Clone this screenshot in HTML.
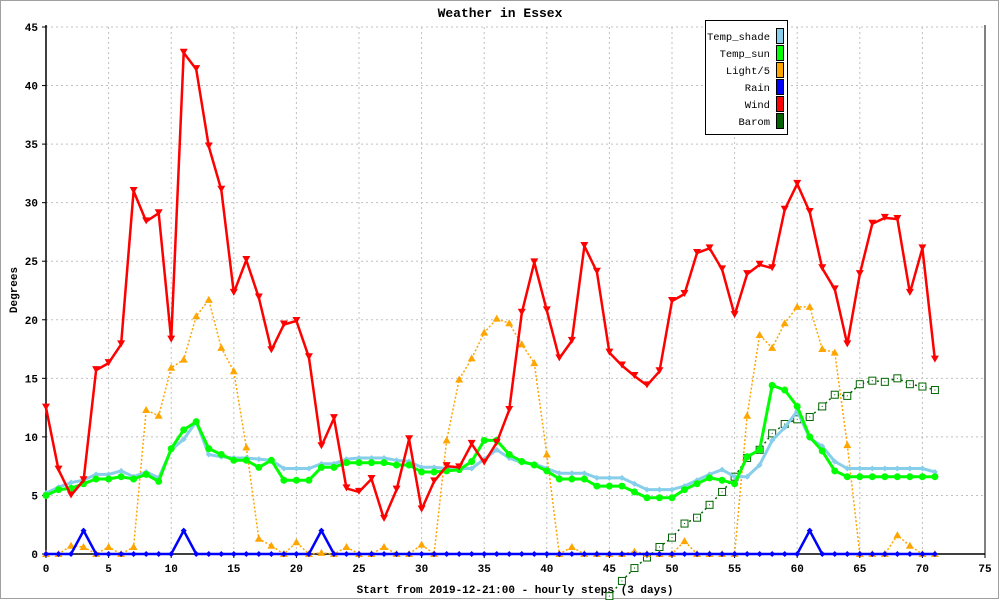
<!DOCTYPE html>
<html><head><meta charset="utf-8"><style>
body{margin:0;background:#fff}
svg{display:block;font-family:"Liberation Mono",monospace}
</style></head><body>
<svg id="chart" width="1000" height="600" viewBox="0 0 1000 600" xmlns="http://www.w3.org/2000/svg">
<rect x="0.5" y="0.5" width="998" height="598" fill="#fff" stroke="#a0a0a0"/>
<text x="500" y="17" text-anchor="middle" font-size="13" font-weight="bold">Weather in Essex</text>
<text x="17" y="290" text-anchor="middle" font-size="11" font-weight="bold" transform="rotate(-90 17 290)">Degrees</text>
<text x="515" y="593" text-anchor="middle" font-size="11" font-weight="bold">Start from 2019-12-21:00 - hourly steps (3 days)</text>
<g id="grid"></g><g id="axes"></g><g id="series"></g>
<g>
<rect x="705.5" y="20.5" width="82" height="114" fill="#fff" stroke="#000"/>
<g id="legend-items"></g>
</g>
</svg>
<script>
const xTicks=[0,5,10,15,20,25,30,35,40,45,50,55,60,65,70,75];
const yTicks=[0,5,10,15,20,25,30,35,40,45];
const tempShade=[5.2,5.7,6.1,6.3,6.8,6.8,7.1,6.6,7.0,6.5,8.9,9.8,11.3,8.5,8.3,8.2,8.2,8.1,8.0,7.3,7.3,7.3,7.7,7.7,8.1,8.2,8.2,8.2,8.0,7.9,7.4,7.4,7.3,7.3,7.3,8.1,8.9,8.2,7.8,7.7,7.3,6.9,6.9,6.9,6.5,6.5,6.5,6.0,5.5,5.5,5.5,5.8,6.3,6.8,7.2,6.6,6.6,7.6,9.7,10.8,12.2,9.9,9.2,7.9,7.3,7.3,7.3,7.3,7.3,7.3,7.3,7.0];
const tempSun=[5.0,5.5,5.6,6.0,6.4,6.4,6.6,6.4,6.8,6.2,9.0,10.6,11.3,9.0,8.5,8.0,8.0,7.4,8.0,6.3,6.3,6.3,7.4,7.4,7.8,7.8,7.8,7.8,7.6,7.6,7.0,7.0,7.1,7.2,7.9,9.7,9.7,8.5,7.9,7.6,7.1,6.4,6.4,6.4,5.8,5.8,5.8,5.3,4.8,4.8,4.8,5.5,6.0,6.5,6.3,6.0,8.3,8.9,14.4,14.0,12.6,10.0,8.8,7.1,6.6,6.6,6.6,6.6,6.6,6.6,6.6,6.6];
const light=[0,0,0.7,0.6,0,0.6,0,0.6,12.3,11.8,15.9,16.6,20.3,21.7,17.6,15.6,9.1,1.3,0.7,0,1,0,0.1,0,0.6,0,0,0.6,0,0,0.8,0,9.7,14.9,16.7,18.9,20.1,19.7,17.9,16.3,8.5,0,0.6,0,0,0,0,0.2,0,0,0,1.1,0,0,0,0,11.8,18.7,17.6,19.7,21.1,21.1,17.5,17.2,9.3,0,0,0,1.6,0.7,0,0];
const rain=[0,0,0,2,0,0,0,0,0,0,0,2,0,0,0,0,0,0,0,0,0,0,2,0,0,0,0,0,0,0,0,0,0,0,0,0,0,0,0,0,0,0,0,0,0,0,0,0,0,0,0,0,0,0,0,0,0,0,0,0,0,2,0,0,0,0,0,0,0,0,0,0];
const wind=[12.5,7.2,5,6.3,15.7,16.3,17.9,31,28.4,29.1,18.3,42.8,41.4,34.8,31.1,22.3,25.1,21.9,17.4,19.6,19.9,16.8,9.2,11.6,5.6,5.3,6.4,3,5.5,9.8,3.8,6.2,7.5,7.4,9.4,7.8,9.5,12.3,20.6,24.9,20.8,16.7,18.2,26.3,24.1,17.2,16.1,15.2,14.4,15.6,21.6,22.2,25.7,26.1,24.3,20.4,23.9,24.7,24.4,29.4,31.6,29.2,24.4,22.6,17.9,23.9,28.2,28.7,28.6,22.3,26.1,16.6];
const baromStart=45;
const barom=[-3.6,-2.3,-1.2,-0.3,0.6,1.4,2.6,3.1,4.2,5.3,6.6,8.2,8.9,10.3,11.1,11.5,11.7,12.6,13.6,13.5,14.5,14.8,14.7,15.0,14.5,14.3,14.0];

const NS="http://www.w3.org/2000/svg";
const X0=46,X1=985,Y0=554,Y1=27;
const sx=v=>X0+(X1-X0)*v/75;
const sy=v=>Y0-(Y0-Y1)*v/45;
function mk(t,a,p){const e=document.createElementNS(NS,t);for(const k in a)e.setAttribute(k,a[k]);p.appendChild(e);return e;}
const grid=document.getElementById('grid'),axes=document.getElementById('axes'),ser=document.getElementById('series');
xTicks.forEach(t=>{
 if(t>0&&t<75){const l=mk('line',{x1:sx(t),x2:sx(t),y1:Y1,y2:Y0,stroke:'#c0c0c0','stroke-dasharray':'2,3'},grid);
 
 }
 const tk=mk('text',{x:sx(t),y:Y0+18,'text-anchor':'middle','font-size':11,'font-weight':'bold'},axes);tk.textContent=t;
 
 
 mk('line',{x1:sx(t),x2:sx(t),y1:Y0,y2:Y0+4,stroke:'#000'},axes);
});
yTicks.forEach(t=>{
 if(t>0){const l=mk('line',{x1:X0,x2:X1,y1:sy(t),y2:sy(t),stroke:'#c0c0c0','stroke-dasharray':'2,3'},grid);
 
 }
 const tk=mk('text',{x:X0-8,y:sy(t)+4,'text-anchor':'end','font-size':11,'font-weight':'bold'},axes);tk.textContent=t;
 
 
 mk('line',{x1:X0-4,x2:X0,y1:sy(t),y2:sy(t),stroke:'#000'},axes);
});
mk('line',{x1:X0,x2:X0,y1:Y1-2,y2:Y0,stroke:'#000','stroke-width':1.5},axes);
mk('line',{x1:X0,x2:X1,y1:Y0,y2:Y0,stroke:'#000','stroke-width':1.5},axes);
mk('line',{x1:X1,x2:X1,y1:Y1-2,y2:Y0,stroke:'#000'},axes);

function series(name,data,start,color,width,dash,marker){
 const g=mk('g',{},ser);
 
 
 const pts=data.map((v,i)=>sx(i+start).toFixed(1)+','+sy(v).toFixed(1)).join(' ');
 const a={points:pts,fill:'none',stroke:color,'stroke-width':width,'stroke-linejoin':'round'};
 if(dash)a['stroke-dasharray']=dash;
 mk('polyline',a,g);
 data.forEach((v,i)=>{const x=sx(i+start),y=sy(v);let m;
  if(marker==='down')m=mk('polygon',{points:`${x-4},${y-4} ${x+4},${y-4} ${x},${y+3}`,fill:color},g);
  else if(marker==='up')m=mk('polygon',{points:`${x-4},${y+3} ${x+4},${y+3} ${x},${y-4}`,fill:color},g);
  else if(marker==='circle')m=mk('circle',{cx:x,cy:y,r:3.5,fill:color},g);
  else if(marker==='diamond')m=mk('polygon',{points:`${x},${y-3} ${x+3},${y} ${x},${y+3} ${x-3},${y}`,fill:color},g);
  else if(marker==='square'){m=mk('rect',{x:x-3.5,y:y-3.5,width:7,height:7,fill:'#fff',stroke:color},g);mk('rect',{x:x-0.5,y:y-0.5,width:1,height:1,fill:color},g);}
  
  
 });
}
series('barom',barom,baromStart,'#006400',1.5,'2,3','square');
series('light',light,0,'#ffa500',1.5,'2,2','up');
series('temp-shade',tempShade,0,'#87ceeb',3,null,'diamond');
series('temp-sun',tempSun,0,'#00ff00',3,null,'circle');
series('wind',wind,0,'#ff0000',2.5,null,'down');
series('rain',rain,0,'#0000ff',2.5,null,'diamond');

const legNames=['Temp_shade','Temp_sun','Light/5','Rain','Wind','Barom'];
const legColors=['#87ceeb','#00ff00','#ffa500','#0000ff','#ff0000','#006400'];
const lg=document.getElementById('legend-items');
legNames.forEach((n,i)=>{const y=36+i*17;
 const t=mk('text',{x:770,y:y+4,'text-anchor':'end','font-size':10.5},lg);t.textContent=n;
 
 
 const r=mk('rect',{x:776.5,y:y-7.5,width:7,height:15,fill:legColors[i],stroke:'#000'},lg);
 
 
});
</script>
</body></html>
